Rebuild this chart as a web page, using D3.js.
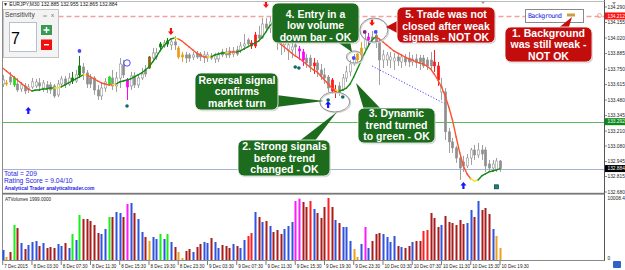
<!DOCTYPE html>
<html><head><meta charset="utf-8">
<script src="https://cdn.jsdelivr.net/npm/d3@7/dist/d3.min.js"></script>
<style>
html,body{margin:0;padding:0;background:#fff;overflow:hidden}
svg{display:block;font-family:"Liberation Sans",Arial,sans-serif}
</style></head><body>
<svg id="c" width="625" height="270"></svg>
<script>
// ---------------- DATA ----------------
const openP=[133.620,133.620,133.681,133.612,133.620,133.577,133.603,133.568,133.594,133.603,133.629,133.585,133.612,133.612,133.603,133.525,133.620,133.664,133.620,133.646,133.646,133.699,133.768,133.716,133.672,133.672,133.568,133.516,133.585,133.620,133.672,133.603,133.672,133.786,133.655,133.603,133.690,133.612,133.672,133.742,133.759,133.846,133.855,133.942,133.951,133.968,133.960,133.986,133.933,133.855,133.873,133.873,133.855,133.881,133.881,133.855,133.846,133.864,133.838,133.838,133.899,133.899,133.907,133.881,133.916,133.916,133.951,134.003,133.977,133.951,134.046,134.020,134.142,134.107,134.160,134.064,134.038,133.960,133.916,133.916,133.960,133.925,133.899,133.846,133.846,133.777,133.803,133.742,133.699,133.681,133.655,133.542,133.603,133.568,133.672,133.725,133.794,133.829,133.873,133.933,134.003,134.029,134.046,133.986,133.829,133.829,133.829,133.820,133.855,133.812,133.846,133.846,133.812,133.838,133.846,133.846,133.829,133.829,133.812,133.777,133.551,133.551,133.204,133.116,133.064,132.976,132.942,132.907,132.976,133.046,133.002,133.046,133.046,132.924,132.889,132.872,132.950];
const highP=[133.699,133.655,133.725,133.690,133.672,133.638,133.629,133.620,133.672,133.664,133.672,133.655,133.646,133.638,133.620,133.655,133.690,133.690,133.716,133.725,133.742,133.864,133.803,133.742,133.707,133.690,133.612,133.629,133.672,133.690,133.742,133.725,133.846,133.829,133.672,133.725,133.725,133.707,133.759,133.786,133.864,133.933,133.933,133.986,134.003,134.020,134.020,134.038,133.951,133.899,133.899,133.890,133.899,133.907,133.899,133.907,133.899,133.890,133.890,133.899,133.925,133.933,133.942,133.942,133.951,133.986,134.055,134.020,134.003,134.073,134.125,134.194,134.194,134.203,134.177,134.090,134.073,134.064,133.986,133.977,133.986,133.951,133.925,133.881,133.873,133.846,133.829,133.794,133.759,133.699,133.672,133.612,133.638,133.707,133.777,133.829,133.881,133.899,133.986,134.081,134.064,134.081,134.090,134.020,133.916,133.899,133.899,133.890,133.890,133.881,133.881,133.899,133.873,133.881,133.873,133.873,133.855,133.899,133.916,133.812,133.672,133.585,133.237,133.150,133.081,133.002,132.994,133.011,133.064,133.090,133.107,133.090,133.072,132.959,132.959,132.976,132.959];
const lowP=[133.594,133.603,133.612,133.594,133.551,133.551,133.533,133.542,133.577,133.585,133.559,133.551,133.542,133.533,133.498,133.507,133.585,133.585,133.603,133.620,133.629,133.672,133.655,133.585,133.585,133.525,133.481,133.481,133.551,133.603,133.568,133.551,133.585,133.672,133.481,133.568,133.585,133.585,133.655,133.681,133.751,133.812,133.829,133.916,133.933,133.942,133.916,133.916,133.838,133.812,133.803,133.812,133.829,133.838,133.820,133.803,133.812,133.829,133.803,133.812,133.855,133.846,133.846,133.855,133.864,133.890,133.916,133.942,133.925,133.933,134.003,134.012,134.073,134.064,134.003,133.916,133.873,133.899,133.829,133.846,133.873,133.829,133.777,133.759,133.725,133.707,133.681,133.655,133.620,133.551,133.533,133.498,133.516,133.559,133.638,133.690,133.777,133.812,133.846,133.916,133.951,133.977,133.933,133.612,133.759,133.777,133.759,133.742,133.777,133.759,133.777,133.768,133.777,133.759,133.742,133.759,133.742,133.742,133.725,133.603,133.481,133.132,133.020,133.020,132.933,132.785,132.855,132.889,132.916,132.959,132.976,132.959,132.855,132.855,132.855,132.855,132.855];
const closeP=[133.655,133.629,133.638,133.672,133.568,133.612,133.559,133.594,133.638,133.638,133.603,133.629,133.585,133.568,133.516,133.620,133.664,133.612,133.672,133.672,133.699,133.777,133.716,133.620,133.620,133.568,133.516,133.585,133.638,133.681,133.603,133.672,133.794,133.699,133.594,133.690,133.612,133.672,133.707,133.707,133.855,133.890,133.890,133.968,133.977,133.994,133.986,133.960,133.855,133.873,133.846,133.846,133.873,133.855,133.855,133.873,133.873,133.846,133.864,133.873,133.873,133.873,133.873,133.907,133.881,133.951,133.968,133.968,133.951,134.046,134.020,134.142,134.107,134.160,134.064,134.003,133.977,134.020,133.960,133.942,133.942,133.907,133.829,133.803,133.777,133.803,133.742,133.699,133.672,133.585,133.559,133.568,133.542,133.672,133.725,133.794,133.846,133.881,133.933,134.012,134.029,134.012,133.986,133.829,133.873,133.873,133.855,133.846,133.820,133.855,133.812,133.812,133.838,133.812,133.812,133.777,133.777,133.777,133.777,133.655,133.603,133.204,133.116,133.064,132.976,132.889,132.907,132.976,133.046,133.002,133.046,133.011,132.907,132.889,132.924,132.950,132.884];
// candle signal tint: . normal, G lime, g dark green, m magenta, o orange, w brown, r red
const candleTint="." + "o.G" + "...............g.g.......G....m.....w..g.g..oo" + "..................rr...........mm..r....rr.....oo.m.................rr..................." + "o.";
const volumes=[1614,484,1291,5650,5165,2744,1776,2421,2906,3067,2260,2744,1937,2098,1937,2583,2260,2744,1937,4197,3228,7264,6618,6618,6296,5650,4358,4197,5004,6941,6941,7748,7587,6941,9040,9201,7587,6618,4520,3713,3067,3713,3390,4197,3390,4197,2906,2098,1291,323,1453,1776,1291,2098,2583,2906,2744,3551,2906,1937,2421,2260,1937,2583,2260,1937,3228,3874,4358,7748,6941,6134,6296,5488,4520,4843,4197,5004,5488,6134,9524,9900,9363,8556,9524,8233,7587,6780,8556,10008,8556,6457,5973,5327,5327,3067,1776,484,2583,5327,1937,3067,4197,4358,4197,3713,2906,3874,2260,2098,1937,2260,2906,3067,3067,4681,4843,7587,6780,5327,5650,7103,6134,5973,5650,6457,5811,5973,8072,6941,9524,8072,8395,7426,5004,3874,1937];
const volumeClass="b o d g d b d b b b d b d d d b b d b g b g d d d d d b b g d b b d m b d b b d o b b g b g b d o o d d b d d b b d b b d d d b d b b r r b d b d b d d d b b b m m d d r b d d d r d b d b b b o o b m b d d d b b b b d b d d b d d r r d d d b d d d d d d b b d b d d d b o o".split(" ");
const trendLine=[133.759,133.733,133.707,133.681,133.655,133.629,133.603,133.577,133.559,133.568,133.568,133.577,133.577,133.585,133.585,133.585,133.594,133.612,133.629,133.646,133.664,133.681,133.699,133.699,133.681,133.664,133.646,133.629,133.620,133.612,133.612,133.620,133.638,133.646,133.655,133.664,133.681,133.699,133.716,133.742,133.768,133.812,133.855,133.907,133.951,133.986,134.012,134.020,134.012,133.994,133.968,133.942,133.916,133.890,133.873,133.855,133.855,133.855,133.873,133.881,133.890,133.890,133.899,133.899,133.899,133.907,133.925,133.942,133.960,133.977,133.994,134.029,134.073,134.125,134.160,134.003,133.968,133.942,133.916,133.890,133.864,133.846,133.820,133.794,133.768,133.742,133.725,133.690,133.655,133.620,133.585,133.568,133.559,133.568,133.585,133.620,133.681,133.751,133.820,133.890,133.951,134.003,134.029,134.012,133.986,133.960,133.933,133.907,133.890,133.873,133.855,133.838,133.829,133.812,133.803,133.794,133.777,133.751,133.707,133.655,133.594,133.516,133.420,133.307,133.159,133.020,132.907,132.837,132.794,132.776,132.785,132.820,132.837,132.855,132.863,132.872,132.881];
const trendState="rrrrrrrr"+"gggggg"+"yy"+"gggggg"+"y"+"rrrrrrr"+"y"+"gggggggggggggggg"+"y"+"rrrrrrrr"+"y"+"gggg"+"y"+"rr"+"gggggggggg"+"n"+"rrrrrrrrrrrrrrrr"+"y"+"gggggggggg"+"rrrrrrrrrrrrrrrrrrrrrrrrrr"+"yy"+"ggggggg";
const projBars=[101,121], projPrices=[133.777,133.446];
const upArrowBars=[7,89,126], upArrowPrices=[133.420,133.472,132.768];
const downArrowBars=[46,72,101], downArrowPrices=[134.046,134.281,134.125];
const blueDotBars=[21,96,102], blueDotPrices=[133.907,133.846,134.073];
const purpleDotBars=[99], purpleDotPrices=[134.073];
const tealDotBars=[34,80,81,89,93], tealDotPrices=[133.429,133.768,133.759,133.481,133.507];
const tealSquareBars=[135], tealSquarePrices=[132.725];
const ringBars=[34], ringPrices=[133.803];
const priceTicks=[134.290,134.155,134.020,133.885,133.750,133.615,133.480,133.345,133.210,133.080,132.945,132.815,132.680];
const levelLines=[{v:134.212,kind:"alert"},{v:133.292,kind:"green"},{v:132.884,kind:"bid"}];
const timeTickBars=[0,8,16,24,32,40,48,56,64,72,80,88,96,104,112,120,128,136];
const timeLabels=["7 Dec 2015","8 Dec 03:30","8 Dec 07:30","8 Dec 11:30","8 Dec 15:30","8 Dec 19:30","8 Dec 23:30","9 Dec 03:30","9 Dec 07:30","9 Dec 11:30","9 Dec 15:30","9 Dec 19:30","9 Dec 23:30","10 Dec 03:30","10 Dec 07:30","10 Dec 11:30","10 Dec 15:30","10 Dec 19:30"];
const volumeTicks=[10008.4,0];
const titleText="▼ EURJPY,M30  132.885 132.955 132.865 132.884";
const statsLines=["Total = 209","Rating Score = 9.04/10"];

// ---------------- DRAW ----------------
const svg=d3.select("#c");
const x=d3.scaleLinear().domain([0,136]).range([2.7,500]);
const y=d3.scaleLinear().domain([132.680,134.290]).range([192,7]);
const yv=d3.scaleLinear().domain([0,10008.4]).range([260,198]);
const L=2.5,R=604.5;

svg.append("rect").attr("width",625).attr("height",270).attr("fill","#fff");

// level lines
const lv=svg.append("g");
levelLines.forEach(l=>{
  const yy=Math.round(y(l.v))+0.5;
  const ln=lv.append("line").attr("x1",L).attr("x2",R).attr("y1",yy).attr("y2",yy);
  if(l.kind==="alert") ln.attr("stroke","#f4a0a0").attr("stroke-width",1.5).attr("stroke-dasharray","5,3");
  else if(l.kind==="green") ln.attr("stroke","#5cb85c").attr("stroke-width",1);
  else ln.attr("stroke","#a9b0d8").attr("stroke-width",1);
});

// projection dotted line
svg.append("line").attr("x1",x(projBars[0])).attr("y1",y(projPrices[0])).attr("x2",x(projBars[1])).attr("y2",y(projPrices[1]))
  .attr("stroke","#4848ff").attr("stroke-width",1).attr("stroke-dasharray","1.2,1.8");

// candles
const tintCol={G:"#1ee01e",g:"#127a12",m:"#ff00ff",o:"#e8a020",w:"#8a6412",r:"#ff1a1a"};
const cg=svg.append("g");
const idx=d3.range(openP.length);
cg.selectAll("line.w").data(idx).join("line").attr("class","w")
  .attr("x1",i=>Math.round(x(i))+0.5).attr("x2",i=>Math.round(x(i))+0.5)
  .attr("y1",i=>y(highP[i])).attr("y2",i=>y(lowP[i]))
  .attr("stroke",i=>candleTint[i]!=="."?tintCol[candleTint[i]]:"#a0a0a0").attr("stroke-width",1);
cg.selectAll("rect.b").data(idx).join("rect").attr("class","b")
  .attr("x",i=>Math.round(x(i))-0.7).attr("width",2.4)
  .attr("y",i=>y(Math.max(openP[i],closeP[i])))
  .attr("height",i=>Math.max(1,Math.abs(y(openP[i])-y(closeP[i]))))
  .attr("fill",i=>{const t=candleTint[i]; if(t!==".") return tintCol[t]; return closeP[i]>=openP[i]?"#ffffff":"#8e8e8e";})
  .attr("stroke",i=>{const t=candleTint[i]; if(t!==".") return tintCol[t]; return "#969696";})
  .attr("stroke-width",0.6);

// dynamic trend line
const tcol={r:"#ff5030",g:"#148a14",y:"#f2e61a"};
const tg=svg.append("g");
for(let i=0;i<trendLine.length-1;i++){
  const s=trendState[i]; if(s==="n") continue;
  tg.append("line").attr("x1",x(i)).attr("y1",y(trendLine[i])).attr("x2",x(i+1)).attr("y2",y(trendLine[i+1]))
    .attr("stroke",tcol[s]).attr("stroke-width",1.4).attr("stroke-linecap","round");
}

// markers
const mg=svg.append("g");
upArrowBars.forEach((b,k)=>mg.append("path").attr("transform",`translate(${x(b)},${y(upArrowPrices[k])})`)
  .attr("d","M0,0L3,3.5L1.1,3.5L1.1,7L-1.1,7L-1.1,3.5L-3,3.5Z").attr("fill","#1414ff"));
downArrowBars.forEach((b,k)=>mg.append("path").attr("transform",`translate(${x(b)},${y(downArrowPrices[k])})`)
  .attr("d","M0,0L3,-3.5L1.1,-3.5L1.1,-7L-1.1,-7L-1.1,-3.5L-3,-3.5Z").attr("fill","#ff1010"));
blueDotBars.forEach((b,k)=>mg.append("circle").attr("cx",x(b)).attr("cy",y(blueDotPrices[k])).attr("r",1.9).attr("fill","#4a4aff"));
purpleDotBars.forEach((b,k)=>mg.append("circle").attr("cx",x(b)).attr("cy",y(purpleDotPrices[k])).attr("r",1.9).attr("fill","#8a1a8a"));
tealDotBars.forEach((b,k)=>mg.append("circle").attr("cx",x(b)).attr("cy",y(tealDotPrices[k])).attr("r",1.8).attr("fill","#0f6a6a"));
tealSquareBars.forEach((b,k)=>mg.append("rect").attr("x",x(b)-2).attr("y",y(tealSquarePrices[k])-2).attr("width",4).attr("height",4).attr("fill","#1a8080").attr("stroke","#0a3a3a").attr("stroke-width",0.7));
ringBars.forEach((b,k)=>mg.append("circle").attr("cx",x(b)).attr("cy",y(ringPrices[k])).attr("r",3.2).attr("fill","none").attr("stroke","#4a4aff").attr("stroke-width",1));

// highlight ellipses
const eg=svg.append("g");
[[90.8,133.464,15,10],[96.2,133.855,8,6],[101.5,134.090,14,12]].forEach(e=>{
  eg.append("ellipse").attr("cx",x(e[0])+0.8).attr("cy",y(e[1])+0.8).attr("rx",e[2]).attr("ry",e[3]).attr("fill","none").attr("stroke","#d8d8d8").attr("stroke-width",1.4);
  eg.append("ellipse").attr("cx",x(e[0])).attr("cy",y(e[1])).attr("rx",e[2]).attr("ry",e[3]).attr("fill","none").attr("stroke","#8a8a8a").attr("stroke-width",0.9);
});

// frame
const fr=svg.append("g").attr("stroke","#8a8a8a").attr("fill","none");
fr.append("line").attr("x1",L).attr("x2",L).attr("y1",1).attr("y2",261);
fr.append("line").attr("x1",R).attr("x2",R).attr("y1",0).attr("y2",261).attr("stroke","#555");
fr.append("line").attr("x1",L).attr("x2",R).attr("y1",1.5).attr("y2",1.5).attr("stroke","#bbb");
svg.append("rect").attr("x",L).attr("y",192.8).attr("width",R-L).attr("height",1.8).attr("fill","#777");
svg.append("line").attr("x1",L).attr("x2",R).attr("y1",260.5).attr("y2",260.5).attr("stroke","#8a8a8a");

// volumes
const vcol={b:"#2f54e0",d:"#a81c1c",r:"#ff1e1e",g:"#19f019",m:"#ff19ff",o:"#eaa21e"};
svg.append("g").selectAll("rect").data(idx).join("rect")
  .attr("x",i=>Math.round(x(i))-0.5).attr("width",2)
  .attr("y",i=>yv(volumes[i])).attr("height",i=>yv(0)-yv(volumes[i]))
  .attr("fill",i=>vcol[volumeClass[i]]);
svg.append("text").attr("x",5).attr("y",201).attr("font-size",4.6).attr("fill","#222").text("ATVolumes 1999.0000");

// price axis
const ax=svg.append("g").attr("font-size",4.8).attr("fill","#222");
priceTicks.forEach(t=>{
  ax.append("line").attr("x1",R).attr("x2",R+2.5).attr("y1",y(t)).attr("y2",y(t)).attr("stroke","#555").attr("stroke-width",0.7);
  ax.append("text").attr("x",R+3).attr("y",y(t)+1.7).text(d3.format(".3f")(t));
});
const boxCol={alert:"#ff1010",green:"#0a8a1a",bid:"#000"};
levelLines.forEach(l=>{
  const yy=y(l.v);
  ax.append("rect").attr("x",R+0.5).attr("y",yy-3.5).attr("width",20).attr("height",7).attr("fill",boxCol[l.kind]);
  ax.append("text").attr("x",R+3).attr("y",yy+1.7).attr("fill","#fff").text(d3.format(".3f")(l.v));
});
volumeTicks.forEach(t=>{
  ax.append("text").attr("x",R+3).attr("y",yv(t)+(t===0?0:1.7)).text(t===0?"0":d3.format(".1f")(t));
});

// time axis
const tx=svg.append("g").attr("font-size",4.6).attr("fill","#222");
timeTickBars.forEach((b,k)=>{
  tx.append("line").attr("x1",x(b)).attr("x2",x(b)).attr("y1",261).attr("y2",265).attr("stroke","#444").attr("stroke-width",0.7);
  tx.append("text").attr("x",x(b)+1.5).attr("y",267.5).text(timeLabels[k]);
});
svg.append("rect").attr("x",613).attr("y",261).attr("width",8).attr("height",7).attr("rx",1).attr("fill","#2e64c8");
svg.append("path").attr("d","M612,2L616,2L614,5Z").attr("fill","#999");
svg.append("path").attr("d","M481,1.5L485,1.5L483,4Z").attr("fill","#999");

// title & stats
svg.append("text").attr("x",3).attr("y",6).attr("font-size",5).attr("fill","#111").text(titleText);
statsLines.forEach((s,k)=>svg.append("text").attr("x",4).attr("y",175.5+k*7.6).attr("font-size",6.7).attr("fill","#2323e6").text(s));
svg.append("text").attr("x",4.5).attr("y",189.8).attr("font-size",5).attr("font-weight","bold").attr("fill","#2323e6").text("Analytical Trader analyticaltrader.com");

// Sensitivity panel
const p=svg.append("g");
p.append("rect").attr("x",3.5).attr("y",9.5).attr("width",55).attr("height",48).attr("fill","#f3f3f3").attr("stroke","#c4c4c4");
p.append("text").attr("x",5).attr("y",16.5).attr("font-size",6.6).attr("fill","#444").text("Sensitivity");
p.append("line").attr("x1",43).attr("x2",47).attr("y1",16).attr("y2",16).attr("stroke","#777").attr("stroke-width",0.8);
p.append("text").attr("x",51).attr("y",16.5).attr("font-size",6).attr("fill","#666").text("x");
p.append("rect").attr("x",9.5).attr("y",22.5).attr("width",27).attr("height",29).attr("fill","#fff").attr("stroke","#b4c0cc");
p.append("text").attr("x",11).attr("y",43.5).attr("font-size",16).attr("fill","#000").text("7");
p.append("rect").attr("x",41).attr("y",25).attr("width",11).attr("height",10).attr("fill","#3a9a55");
p.append("path").attr("d","M43.5,30H49.5M46.5,27V33").attr("stroke","#fff").attr("stroke-width",1.4);
p.append("rect").attr("x",41).attr("y",39.5).attr("width",11).attr("height",10.5).attr("fill","#f01010");
p.append("path").attr("d","M44,44.7H49").attr("stroke","#fff").attr("stroke-width",1.4);

// Background legend
svg.append("rect").attr("x",525.5).attr("y",9.5).attr("width",58).attr("height",13).attr("fill","#fff").attr("stroke","#8a8a8a");
svg.append("text").attr("x",528).attr("y",18).attr("font-size",6.6).attr("font-family","'DejaVu Sans Mono',monospace").attr("fill","#1c1cd8").attr("textLength",34).text("Background");
svg.append("rect").attr("x",567).attr("y",13.5).attr("width",8).attr("height",3).attr("fill","#c8a040");
svg.append("circle").attr("cx",599.5).attr("cy",15.5).attr("r",2).attr("fill","none").attr("stroke","#e09090").attr("stroke-width",0.8);

// callouts
const callouts=[
 {box:[195,73,83,37],fill:"#1d6b1d",tri:[[276,95],[276,107],[324,101]],lines:["Reversal signal","confirms","market turn"],cx:237,y0:83.5},
 {box:[238,140,92,36],fill:"#1d6b1d",tri:[[298,142],[314,142],[337,112]],lines:["2. Strong signals","before trend","changed - OK"],cx:284.5,y0:150},
 {box:[358,108,77,35],fill:"#1d6b1d",tri:[[364,110],[382,110],[356,83]],lines:["3. Dynamic","trend turned","to green - OK"],cx:396.5,y0:117},
 {box:[272,3,87,40],fill:"#1d6b1d",tri:[[336,41],[350,41],[352,52]],lines:["4. Entry in a","low volume","down bar - OK"],cx:315.5,y0:17.5},
 {box:[397,7,98,36],fill:"#c30d0d",tri:[[399,20],[399,34],[386,27]],lines:["5. Trade was not","closed after weak","signals - NOT OK"],cx:446,y0:18},
 {box:[505,27,87,35],fill:"#c30d0d",tri:[[556,30],[568,30],[572,17]],lines:["1. Background","was still weak -","NOT OK"],cx:548.5,y0:36.5}
];
const cgp=svg.append("g");
callouts.forEach(c=>{
  const g=cgp.append("g");
  g.append("rect").attr("x",c.box[0]+1).attr("y",c.box[1]+1.2).attr("width",c.box[2]).attr("height",c.box[3]).attr("rx",6).attr("fill","#000").attr("opacity",0.18);
  g.append("path").attr("d","M"+c.tri.map(p=>p.join(",")).join("L")+"Z").attr("fill",c.fill);
  g.append("rect").attr("x",c.box[0]).attr("y",c.box[1]).attr("width",c.box[2]).attr("height",c.box[3]).attr("rx",6).attr("fill",c.fill).attr("stroke","#fff").attr("stroke-width",0.8);
  c.lines.forEach((t,k)=>g.append("text").attr("x",c.cx).attr("y",c.y0+k*11.6).attr("text-anchor","middle")
    .attr("font-size",10.5).attr("font-weight","bold").attr("fill","#fff").text(t));
});
</script>
</body></html>
